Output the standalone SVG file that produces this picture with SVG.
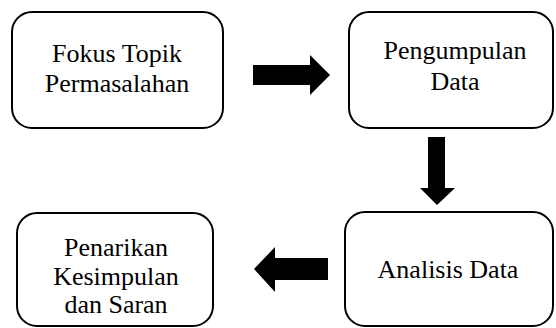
<svg xmlns="http://www.w3.org/2000/svg" width="556" height="328" viewBox="0 0 556 328">
<style>
.box{fill:#fff;stroke:#000;stroke-width:2}
.t{font-family:'Liberation Serif','Times New Roman',serif;font-size:26px;fill:#000;text-anchor:middle}
.arr{fill:#000;stroke:none}
</style>
<rect width="556" height="328" fill="#fff"/>
<g id="node-fokus">
<rect class="box" x="12" y="12" width="211" height="116" rx="20" ry="20"/>
<text class="t" x="117" y="62">Fokus Topik</text>
<text class="t" x="117" y="92">Permasalahan</text>
</g>
<g id="node-pengumpulan">
<rect class="box" x="349" y="12" width="204" height="116" rx="20" ry="20"/>
<text class="t" x="455" y="59">Pengumpulan</text>
<text class="t" x="455" y="90">Data</text>
</g>
<g id="node-analisis">
<rect class="box" x="345" y="212" width="208" height="114" rx="20" ry="20"/>
<text class="t" x="448" y="278">Analisis Data</text>
</g>
<g id="node-penarikan">
<rect class="box" x="17" y="213" width="196" height="113" rx="20" ry="20"/>
<text class="t" x="116" y="256">Penarikan</text>
<text class="t" x="116" y="285">Kesimpulan</text>
<text class="t" x="116" y="313">dan Saran</text>
</g>
<g id="connectors">
<polygon class="arr" points="253,65 310,65 310,55 330,75 310,95 310,85 253,85"/>
<polygon class="arr" points="428,137 445,137 445,188 455,188 437,205 420,188 428,188"/>
<polygon class="arr" points="328,258 328,280 275,280 275,292 254,269 275,247 275,258"/>
</g>
</svg>
